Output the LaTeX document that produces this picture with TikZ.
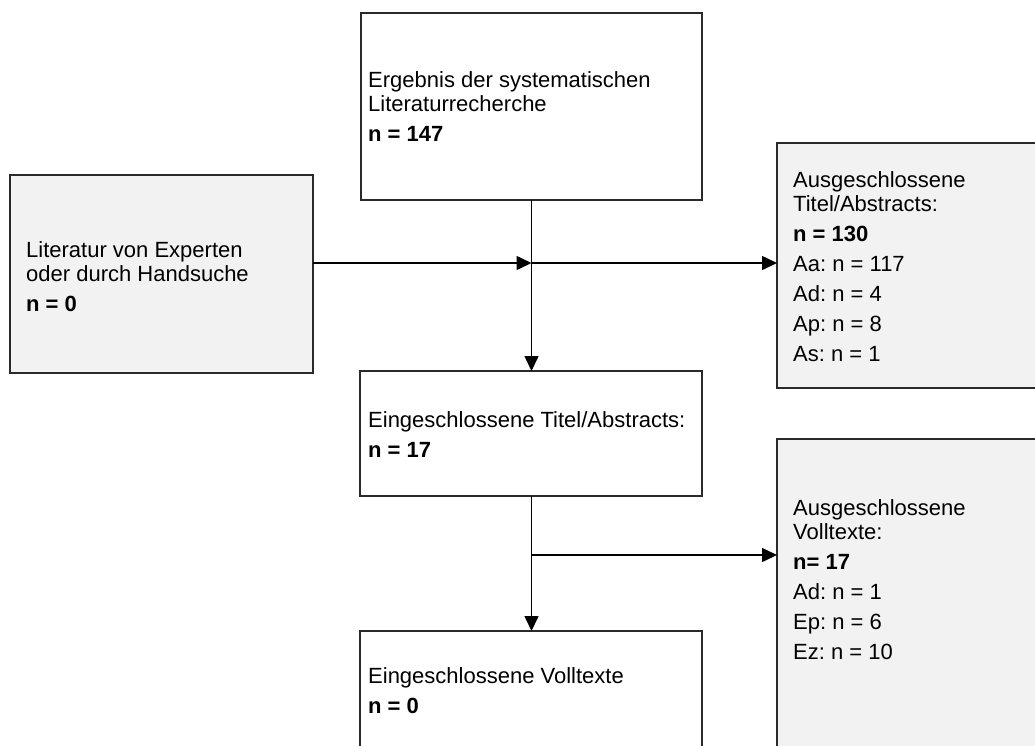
\documentclass[tikz,border=0pt]{standalone}
\usepackage{fontspec}
\setmainfont{Liberation Sans}
\usetikzlibrary{arrows.meta}
\definecolor{boxgray}{HTML}{F2F2F2}
\definecolor{edgecol}{HTML}{2A2A2A}
\frenchspacing
\begin{document}
\frenchspacing
\begin{tikzpicture}[x=1pt,y=-1pt,
  box/.style={draw=edgecol, line width=1.5pt, inner sep=0pt, outer sep=0pt, anchor=north west},
  greybox/.style={box, fill=boxgray},
  txt/.style={anchor=base west, inner sep=0pt, font=\fontsize{22}{24}\selectfont\frenchspacing},
  conn/.style={draw=black, line width=1.5pt},
  arr/.style={conn, -{Triangle[length=15pt,width=14pt]}}]
\useasboundingbox (0,0) rectangle (1035,745);
\clip (0,0) rectangle (1035,745);
\fill[white] (0,0) rectangle (1035,745);

% boxes
\node[box, minimum width=341pt, minimum height=187pt] (top) at (361,13) {};
\node[greybox, minimum width=303pt, minimum height=198pt] (left) at (10,175) {};
\node[greybox, minimum width=290pt, minimum height=245pt] (r1) at (777,143) {};
\node[box, minimum width=342pt, minimum height=125pt] (mid) at (360,371) {};
\node[box, minimum width=342pt, minimum height=150pt] (bot) at (360,631) {};
\node[greybox, minimum width=290pt, minimum height=340pt] (r2) at (777,439) {};

% texts
\node[txt] (ttop) at (368,87) {\begin{tabular}[t]{@{}l@{}}Ergebnis der systematischen\\Literaturrecherche\\[6pt]\textbf{n = 147}\end{tabular}};
\node[txt] (tleft) at (26,257) {\begin{tabular}[t]{@{}l@{}}Literatur von Experten\\oder durch Handsuche\\[6pt]\textbf{n = 0}\end{tabular}};
\node[txt] (tr1) at (793,187) {\begin{tabular}[t]{@{}l@{}}Ausgeschlossene\\Titel/Abstracts:\\[6pt]\textbf{n = 130}\\[6pt]Aa: n = 117\\[6pt]Ad: n = 4\\[6pt]Ap: n = 8\\[6pt]As: n = 1\end{tabular}};
\node[txt] (tmid) at (368,427) {\begin{tabular}[t]{@{}l@{}}Eingeschlossene Titel/Abstracts:\\[6pt]\textbf{n = 17}\end{tabular}};
\node[txt] (tbot) at (368,683) {\begin{tabular}[t]{@{}l@{}}Eingeschlossene Volltexte\\[6pt]\textbf{n = 0}\end{tabular}};
\node[txt] (tr2) at (793,515) {\begin{tabular}[t]{@{}l@{}}Ausgeschlossene\\Volltexte:\\[6pt]\textbf{n= 17}\\[6pt]Ad: n = 1\\[6pt]Ep: n = 6\\[6pt]Ez: n = 10\end{tabular}};

% connectors
\coordinate (j1) at (531.5,263);
\coordinate (j2) at (531.5,555);
\draw[arr] (top.south) -- (top.south |- mid.north);
\draw[arr] (left.east |- j1) -- (j1);
\draw[arr] (j1) -- (j1 -| r1.west);
\draw[arr] (mid.south -| j2) -- (j2 |- bot.north);
\draw[arr] (j2) -- (j2 -| r2.west);
\end{tikzpicture}
\end{document}
